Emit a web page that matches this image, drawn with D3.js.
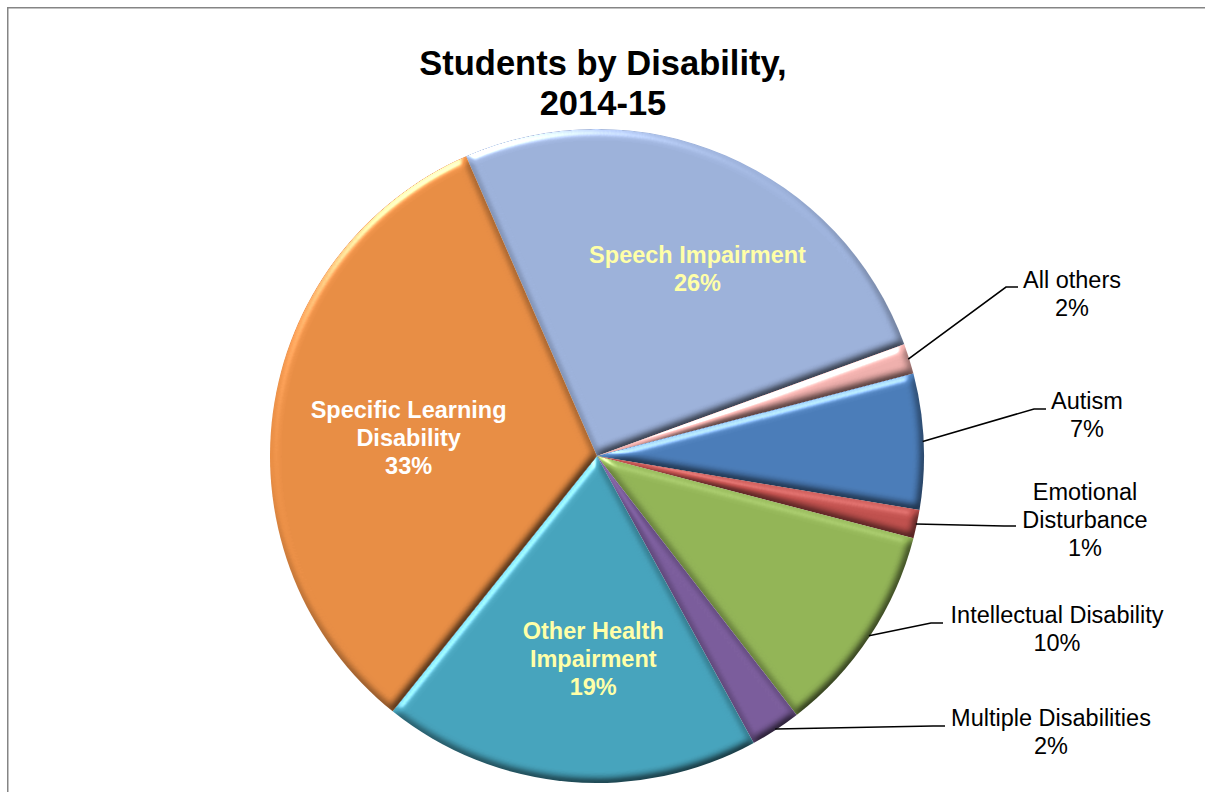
<!DOCTYPE html>
<html>
<head>
<meta charset="utf-8">
<script src="https://cdn.jsdelivr.net/npm/d3@7"></script>
<style>
  html, body { margin: 0; padding: 0; background: #fff; overflow: hidden; }
  svg { display: block; }
  text { font-family: "Liberation Sans", Arial, Helvetica, sans-serif; }
</style>
</head>
<body>
<svg id="chart" width="1205" height="792"></svg>
<script>
// ---------------- data ----------------
const titleLines = ["Students by Disability,", "2014-15"];
const categories = [
  "Speech Impairment",
  "All others",
  "Autism",
  "Emotional Disturbance",
  "Intellectual Disability",
  "Multiple Disabilities",
  "Other Health Impairment",
  "Specific Learning Disability"
];
const values = [26.0, 1.5, 6.7, 1.4, 10.5, 2.5, 18.7, 32.7];
const percentLabels = ["26%", "2%", "7%", "1%", "10%", "2%", "19%", "33%"];
const labelLines = [
  ["Speech Impairment"],
  ["All others"],
  ["Autism"],
  ["Emotional", "Disturbance"],
  ["Intellectual Disability"],
  ["Multiple Disabilities"],
  ["Other Health", "Impairment"],
  ["Specific Learning", "Disability"]
];
const colors = ["#9CB1DA", "#EFAFAC", "#4A7CB8", "#C0504D", "#92B456", "#7A5C9B", "#46A3BC", "#E88D44"];

// -------------- layout / style --------------
const W = 1205, H = 792;
const cx = 597, cy = 456, R = 327;
const startAngle = -23.6 * Math.PI / 180;
const fontSize = 23.5, lineH = 28;
// inside labels: radius at which the label centre sits, nudge, colour
const insideStyle = {
  0: { r: 212, dx: 17, dy: 8, fill: "#FFFFA8" },
  6: { r: 203, dx: 14, dy: 1, fill: "#FFFFA8" },
  7: { r: 190, dx: 0, dy: 7, fill: "#FFFFFF" }
};
// outside labels: text centre x, first-line centre y, leader end point
const outsideStyle = {
  1: { tx: 1072, ty: 280, ex: 1018, ey: 287 },
  2: { tx: 1087, ty: 401, ex: 1046, ey: 409 },
  3: { tx: 1085, ty: 492, ex: 1016, ey: 526 },
  4: { tx: 1057, ty: 615, ex: 943, ey: 623 },
  5: { tx: 1051, ty: 718, ex: 945, ey: 726 }
};

const svg = d3.select("#chart");

// frame
svg.append("rect")
  .attr("x", 7.75).attr("y", 7.75)
  .attr("width", W + 20).attr("height", H + 20)
  .attr("fill", "none").attr("stroke", "#858585").attr("stroke-width", 1.5);

// title
const title = svg.append("text")
  .attr("text-anchor", "middle")
  .attr("font-size", 34.5).attr("font-weight", "bold").attr("fill", "#000");
titleLines.forEach((t, i) => {
  title.append("tspan").attr("x", 603).attr("y", 75 + i * 40).text(t);
});

// bevel filter
const defs = svg.append("defs");
const f = defs.append("filter").attr("id", "bevel")
  .attr("x", "-10%").attr("y", "-10%").attr("width", "120%").attr("height", "120%")
  .attr("color-interpolation-filters", "sRGB");
f.append("feGaussianBlur").attr("in", "SourceAlpha").attr("stdDeviation", 4).attr("result", "blur");
const diff = f.append("feDiffuseLighting").attr("in", "blur").attr("surfaceScale", 4)
  .attr("diffuseConstant", 1.21).attr("lighting-color", "#ffffff").attr("result", "diff");
diff.append("feDistantLight").attr("azimuth", 240).attr("elevation", 55);
f.append("feComposite").attr("in", "SourceGraphic").attr("in2", "diff")
  .attr("operator", "arithmetic").attr("k1", 1).attr("k2", 0).attr("k3", 0).attr("k4", 0)
  .attr("result", "shaded");
const spec = f.append("feSpecularLighting").attr("in", "blur").attr("surfaceScale", 4)
  .attr("specularConstant", 0.7).attr("specularExponent", 28)
  .attr("lighting-color", "#ffffff").attr("result", "spec");
spec.append("feDistantLight").attr("azimuth", 240).attr("elevation", 30);
f.append("feComposite").attr("in", "spec").attr("in2", "SourceAlpha")
  .attr("operator", "in").attr("result", "specIn");
f.append("feComposite").attr("in", "shaded").attr("in2", "specIn")
  .attr("operator", "arithmetic").attr("k1", 0).attr("k2", 1).attr("k3", 0.8).attr("k4", 0);

// pie
const pie = d3.pie().sort(null).value(d => d)
  .startAngle(startAngle).endAngle(startAngle + 2 * Math.PI);
const arcs = pie(values);
const arc = d3.arc().innerRadius(0).outerRadius(R);

const g = svg.append("g").attr("transform", `translate(${cx},${cy})`);
g.selectAll("path.slice").data(arcs).enter().append("path")
  .attr("class", "slice")
  .attr("d", arc)
  .attr("fill", (d, i) => colors[i])
  .attr("filter", "url(#bevel)");

// inside labels
arcs.forEach((d, i) => {
  const st = insideStyle[i];
  if (!st) return;
  const c = d3.arc().innerRadius(st.r).outerRadius(st.r).centroid(d);
  const lines = labelLines[i].concat([percentLabels[i]]);
  const t0 = cx + c[0] + st.dx;
  const y0 = cy + c[1] + st.dy - (lines.length - 1) * lineH / 2;
  const txt = svg.append("text").attr("text-anchor", "middle")
    .attr("font-size", fontSize).attr("font-weight", "bold").attr("fill", st.fill);
  lines.forEach((l, k) => {
    txt.append("tspan").attr("x", t0).attr("y", y0 + k * lineH + 8.2).text(l);
  });
});

// outside labels with leader lines
arcs.forEach((d, i) => {
  const st = outsideStyle[i];
  if (!st) return;
  const p = d3.arc().innerRadius(R - 1).outerRadius(R - 1).centroid(d);
  const sx = cx + p[0], sy = cy + p[1];
  svg.append("polyline")
    .attr("points", [[sx, sy], [st.ex - 12, st.ey], [st.ex, st.ey]].map(q => q.join(",")).join(" "))
    .attr("fill", "none").attr("stroke", "#000").attr("stroke-width", 1.6);
  const lines = labelLines[i].concat([percentLabels[i]]);
  const txt = svg.append("text").attr("text-anchor", "middle")
    .attr("font-size", fontSize).attr("fill", "#000");
  lines.forEach((l, k) => {
    txt.append("tspan").attr("x", st.tx).attr("y", st.ty + k * lineH + 8.2).text(l);
  });
});
</script>
</body>
</html>
